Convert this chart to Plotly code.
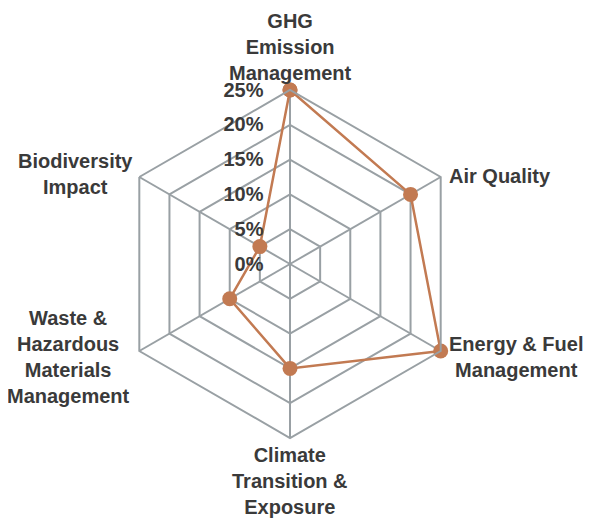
import plotly.graph_objects as go

categories = ["GHG Emission Management", "Air Quality", "Energy & Fuel Management",
              "Climate Transition & Exposure", "Waste & Hazardous Materials Management",
              "Biodiversity Impact"]
label_text = ["GHG<br>Emission<br>Management", "Air Quality", "Energy & Fuel<br>Management",
              "Climate<br>Transition &<br>Exposure", "Waste &<br>Hazardous<br>Materials<br>Management",
              "Biodiversity<br>Impact"]
values = [25, 20, 25, 15, 10, 5]
tick_vals = [0, 5, 10, 15, 20, 25]

W, H = 593, 519
OFF = 8  # page body margin of the browser
cx, cy, R = 290 - OFF, 264 - OFF, 174

# label placement (pixel positions of the text blocks in the page)
label_pos = [
    (290, 47, "center"),
    (447, 176, "left"),
    (447, 357, "left"),
    (290, 481, "center"),
    (68, 357, "center"),
    (75, 174, "center"),
]

fig = go.Figure()
fig.add_trace(go.Scatterpolar(
    r=values + values[:1],
    theta=categories + categories[:1],
    mode="lines+markers",
    line=dict(color="#C27A52", width=2.5),
    marker=dict(color="#C27A52", size=15),
    hoverinfo="skip",
))

for txt, (px, py, anch) in zip(label_text, label_pos):
    fig.add_annotation(
        text=txt, x=(px - OFF) / W, y=1 - (py - OFF) / H, xref="paper", yref="paper",
        xanchor=anch, yanchor="middle", align="center", showarrow=False,
        font=dict(size=20, color="#3a3a3a", weight="bold"),
    )

fig.update_layout(
    width=W, height=H,
    margin=dict(l=0, r=0, t=0, b=0),
    paper_bgcolor="white",
    showlegend=False,
    font=dict(family="Liberation Sans, Arial, sans-serif", size=20, color="#3a3a3a"),
    polar=dict(
        domain=dict(x=[(cx - R) / W, (cx + R) / W], y=[(H - cy - R) / H, (H - cy + R) / H]),
        bgcolor="white",
        gridshape="linear",
        radialaxis=dict(
            range=[0, 25], tickvals=tick_vals, ticktext=[f"{v}%" for v in tick_vals],
            angle=90, tickangle=90, showline=False, gridcolor="#99A0A4", gridwidth=2,
            ticks="outside", ticklen=19, tickcolor="rgba(0,0,0,0)", side="counterclockwise",
            tickfont=dict(size=20, color="#3a3a3a", weight="bold"),
        ),
        angularaxis=dict(
            rotation=90, direction="clockwise", showticklabels=False,
            gridcolor="#99A0A4", gridwidth=2, linecolor="#99A0A4", linewidth=2,
            ticks="",
        ),
    ),
)
fig.write_html("out.html")
